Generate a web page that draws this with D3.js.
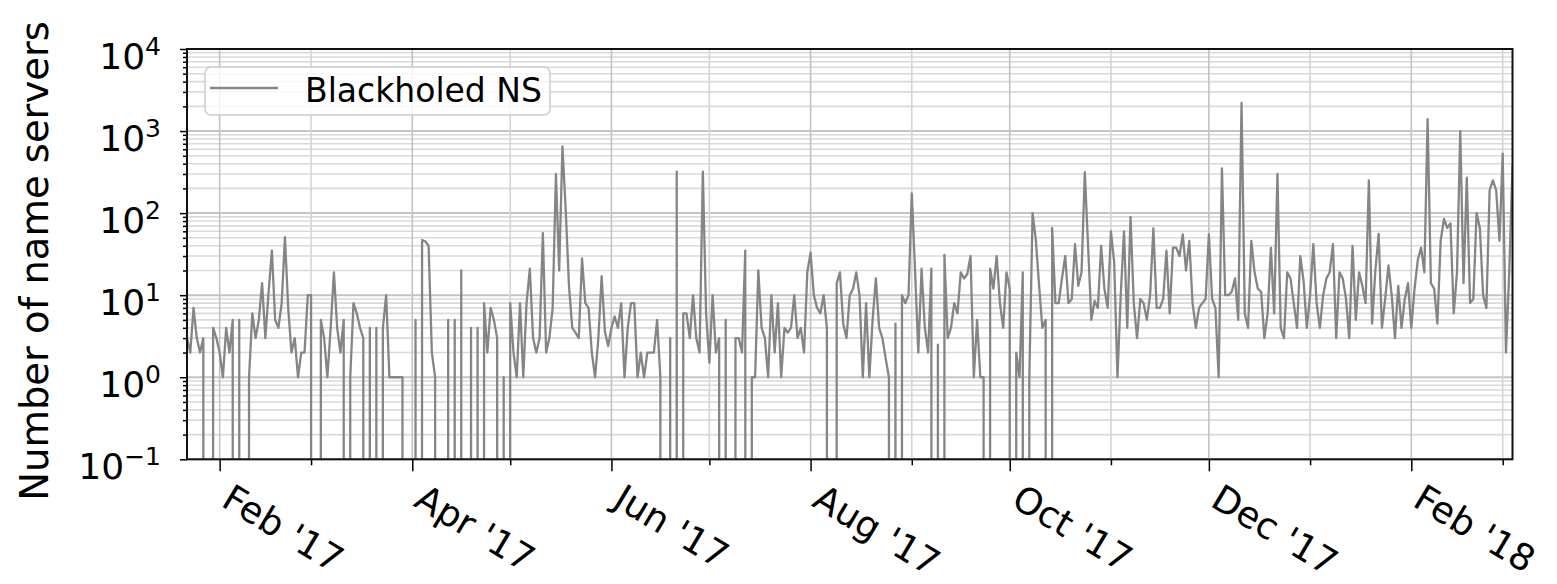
<!DOCTYPE html>
<html>
<head>
<meta charset="utf-8">
<script src="https://cdn.jsdelivr.net/npm/d3@7"></script>
<style>
  body { margin: 0; background: #fff; }
  text { font-family: "DejaVu Sans", sans-serif; fill: #000; }
</style>
</head>
<body>
<svg width="1557" height="584"></svg>
<script>
var svg = d3.select("svg");

// daily counts, first value is 2017-01-22
var startDate = "2017-01-22";
var blackholedNS = [
  3, 2, 7, 3, 2, 3, 0, 0, 4, 3,
  2, 1, 4, 2, 5, 0, 5, 0, 0, 1,
  6, 3, 5, 14, 3, 11, 35, 5, 4, 8,
  51, 7, 2, 3, 1, 2, 2, 10, 10, 0,
  0, 5, 3, 1, 4, 19, 4, 2, 5, 0,
  1, 8, 6, 4, 3, 0, 4, 0, 4, 0,
  4, 10, 1, 1, 1, 1, 1, 0, 0, 0,
  5, 0, 47, 45, 40, 2, 1, 0, 0, 0,
  5, 0, 5, 0, 20, 0, 0, 4, 0, 4,
  0, 8, 2, 7, 5, 3, 0, 1, 0, 8,
  2, 1, 8, 1, 8, 21, 3, 2, 3, 57,
  2, 3, 7, 300, 20, 650, 110, 13, 4, 3.5,
  3, 28, 8, 7, 2, 1, 3, 17, 3.6, 2.4,
  4, 5.5, 4, 8, 1, 4, 8, 8, 1, 2,
  1, 2, 2, 2, 5, 1, 0, 0, 3, 0,
  320, 0, 6, 6, 3, 10, 3, 2, 320, 6,
  1.5, 10, 2, 3, 0, 5, 0, 0, 3, 3,
  2, 35, 0, 1, 1, 20, 4, 3, 1, 10,
  2, 8, 1, 4, 3.5, 4, 10, 3, 4, 2,
  19, 33, 10, 7, 6, 10, 4, 0, 0, 14,
  19, 4.5, 3, 10, 12, 19, 10, 1, 8, 1,
  5, 16, 4, 3, 1.7, 1, 0, 4.5, 0, 10,
  8, 10, 174, 20, 2, 21, 4, 2, 21, 0,
  2.5, 0, 31, 3, 4, 8, 6, 19, 16, 18,
  30, 1, 5, 1, 1, 0, 21, 12, 30, 8,
  4, 19, 12, 0, 2, 1, 19, 0, 1, 100,
  47, 13, 4, 5, 0, 66, 8, 8, 16, 30,
  8, 9, 42, 13, 19, 315, 40, 5, 8.5, 7,
  40, 12, 7, 60, 25, 1, 10, 60, 4, 90,
  8, 3, 9, 8, 5, 10, 65, 7, 7, 9,
  35, 6, 38, 38, 30, 55, 20, 46, 8, 4,
  7, 8, 9, 55, 9, 7, 1, 350, 10, 10,
  11, 16, 5, 2200, 6, 4, 46, 19, 12, 11,
  3, 6, 38, 6, 300, 4, 3, 19, 16, 8,
  4, 30, 15, 4, 10, 42, 8, 4, 10, 16,
  19, 42, 3, 19, 16, 9, 3, 40, 5, 19,
  13, 8, 250, 4.5, 20, 56, 4, 9, 23, 10,
  3, 13, 4, 9, 14, 4, 12, 27, 38, 19,
  1400, 14, 12, 4.5, 46, 85, 66, 75, 6, 19,
  1000, 14, 270, 8, 9, 100, 66, 10, 7, 190,
  250, 190, 46, 530, 2, 19, 380
];

var seriesName = "Blackholed NS";
var yLabel = "Number of name servers";
var yExponents = [-1, 0, 1, 2, 3, 4];
var majorMonths = ["2017-02-01", "2017-04-01", "2017-06-01", "2017-08-01", "2017-10-01", "2017-12-01", "2018-02-01"];
var minorMonths = ["2017-03-01", "2017-05-01", "2017-07-01", "2017-09-01", "2017-11-01", "2018-01-01", "2018-03-01"];

var parse = d3.utcParse("%Y-%m-%d");
var fmt = d3.utcFormat("%b '%y");

var t0 = parse(startDate);
var data = blackholedNS.map(function(v, i) {
  return { date: d3.utcDay.offset(t0, i), v: v };
});

// plot box in pixels
var plotL = 187, plotT = 49, plotR = 1512.5, plotB = 459.3;
var w = plotR - plotL, h = plotB - plotT;

var x = d3.scaleUtc()
  .domain(d3.extent(data, function(d) { return d.date; }))
  .range([0, w]);
var y = d3.scaleLog().domain([0.1, 10000]).range([h, 0]);

var majT = majorMonths.map(parse);
var minT = minorMonths.map(parse);

var yMajor = yExponents.map(function(e) { return Math.pow(10, e); });
var yMinor = [];
yExponents.slice(0, -1).forEach(function(e) {
  for (var k = 2; k < 10; k++) yMinor.push(k * Math.pow(10, e));
});

var g = svg.append("g").attr("transform", "translate(" + plotL + "," + plotT + ")");

// grid
g.append("g").selectAll("line").data(yMinor).enter().append("line")
  .attr("x1", 0).attr("x2", w)
  .attr("y1", function(d) { return y(d); }).attr("y2", function(d) { return y(d); })
  .attr("stroke", "#dadada").attr("stroke-width", 1.6);
g.append("g").selectAll("line").data(yMajor).enter().append("line")
  .attr("x1", 0).attr("x2", w)
  .attr("y1", function(d) { return y(d); }).attr("y2", function(d) { return y(d); })
  .attr("stroke", "#c4c4c4").attr("stroke-width", 2);
g.append("g").selectAll("line").data(minT).enter().append("line")
  .attr("x1", function(d) { return x(d); }).attr("x2", function(d) { return x(d); })
  .attr("y1", 0).attr("y2", h)
  .attr("stroke", "#d4d4d4").attr("stroke-width", 1.6);
g.append("g").selectAll("line").data(majT).enter().append("line")
  .attr("x1", function(d) { return x(d); }).attr("x2", function(d) { return x(d); })
  .attr("y1", 0).attr("y2", h)
  .attr("stroke", "#c2c2c2").attr("stroke-width", 1.6);

// line, zero days fall off the bottom like matplotlib does
svg.append("defs").append("clipPath").attr("id", "clip")
  .append("rect").attr("width", w).attr("height", h);

var line = d3.line()
  .x(function(d) { return x(d.date); })
  .y(function(d) { return d.v > 0 ? y(d.v) : h + 20000; });

g.append("path")
  .datum(data)
  .attr("clip-path", "url(#clip)")
  .attr("d", line)
  .attr("fill", "none")
  .attr("stroke", "#858585")
  .attr("stroke-width", 2.3)
  .attr("stroke-linejoin", "round");

// axes
var axStyle = function(sel) {
  sel.select(".domain").remove();
  sel.selectAll(".tick line").attr("stroke", "#000").attr("stroke-width", 1.5);
  sel.selectAll(".tick text").remove();
};

g.append("g").call(d3.axisLeft(y).tickValues(yMajor).tickSize(7)).call(axStyle);
g.append("g").call(d3.axisLeft(y).tickValues(yMinor).tickSize(4)).call(axStyle);
g.append("g").attr("transform", "translate(0," + h + ")")
  .call(d3.axisBottom(x).tickValues(majT).tickSize(12)).call(axStyle);
g.append("g").attr("transform", "translate(0," + h + ")")
  .call(d3.axisBottom(x).tickValues(minT).tickSize(6)).call(axStyle);

// y tick labels as 10^n
var yl = g.append("g").selectAll("text").data(yExponents).enter().append("text")
  .attr("x", -26)
  .attr("y", function(e) { return y(Math.pow(10, e)) + 20; })
  .attr("text-anchor", "end")
  .style("font-size", "36px");
yl.append("tspan").text("10");
yl.append("tspan").attr("dy", -14).style("font-size", "25px")
  .text(function(e) { return e < 0 ? "\u2212" + (-e) : e; });

// x tick labels
g.append("g").selectAll("text").data(majT).enter().append("text")
  .attr("transform", function(d) { return "translate(" + x(d) + "," + (h + 46) + ") rotate(31)"; })
  .style("font-size", "36.5px")
  .text(function(d) { return fmt(d); });

// frame
g.append("rect").attr("width", w).attr("height", h)
  .attr("fill", "none").attr("stroke", "#111").attr("stroke-width", 2);

// y label
svg.append("text")
  .attr("transform", "translate(48," + 261 + ") rotate(-90)")
  .attr("text-anchor", "middle")
  .style("font-size", "38.5px")
  .text(yLabel);

// legend
var lg = svg.append("g");
lg.append("rect").attr("x", 205).attr("y", 67).attr("width", 345).attr("height", 48)
  .attr("rx", 6).attr("fill", "#fff").attr("fill-opacity", 0.8)
  .attr("stroke", "#cccccc").attr("stroke-width", 1.5);
lg.append("line").attr("x1", 210).attr("x2", 278).attr("y1", 88).attr("y2", 88)
  .attr("stroke", "#858585").attr("stroke-width", 2.3);
lg.append("text").attr("x", 305).attr("y", 101.5).style("font-size", "33px").text(seriesName);
</script>
</body>
</html>
